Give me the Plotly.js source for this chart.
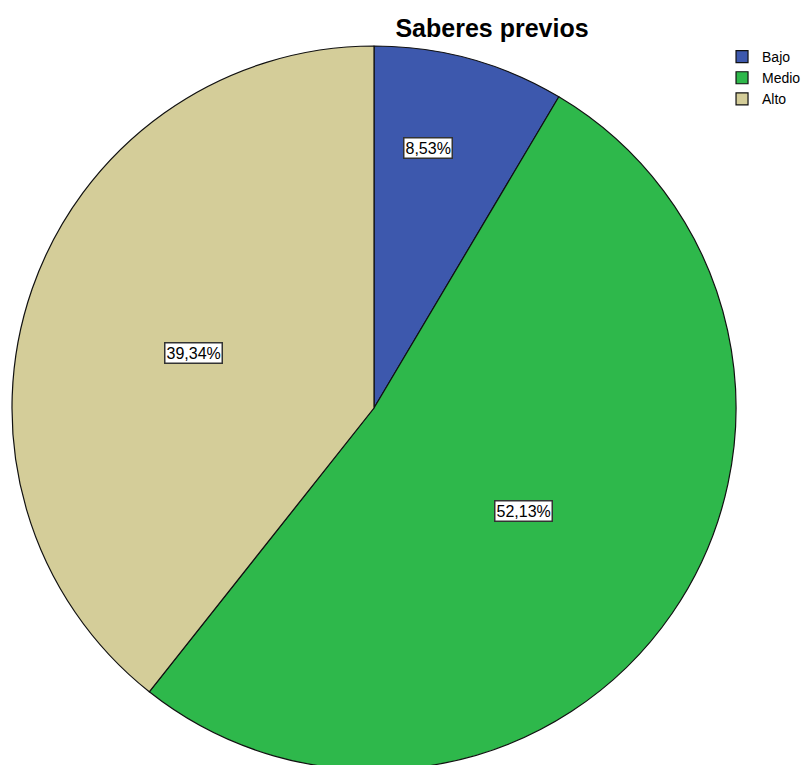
<!DOCTYPE html>
<html>
<head>
<meta charset="utf-8">
<script src="https://cdn.plot.ly/plotly-3.0.1.min.js"></script>
<style>
html, body { margin: 0; padding: 0; overflow: hidden; background: #fff; }
#chart { width: 806px; height: 800px; }
</style>
</head>
<body>
<div id="chart"></div>
<script>
// Data
const categories = ["Bajo", "Medio", "Alto"];
const percents = [8.53, 52.13, 39.34];
const colors = ["#3d58ad", "#2eb84b", "#d4cd99"];
// label placement styling (fraction of radius, fraction along slice)
const labelRadius = [0.733, 0.501, 0.521];
const labelAlong = [0.379, 0.5, 0.484];

const fmt = v => v.toFixed(2).replace(".", ",") + "%";

const total = percents.reduce((a, b) => a + b, 0);
const annotations = [];
let cum = 0;
percents.forEach((v, i) => {
  const start = cum / total * 2 * Math.PI;
  const end = (cum + v) / total * 2 * Math.PI;
  const th = start + (end - start) * labelAlong[i];
  cum += v;
  annotations.push({
    xref: "paper", yref: "paper",
    x: 0.5 + 0.5 * labelRadius[i] * Math.sin(th),
    y: 0.5 + 0.5 * labelRadius[i] * Math.cos(th),
    xanchor: "center", yanchor: "middle",
    text: fmt(v),
    showarrow: false,
    font: { family: "Liberation Sans, Arial, sans-serif", size: 16, color: "#000" },
    bgcolor: "#ffffff",
    bordercolor: "#333333",
    borderwidth: 1.5,
    borderpad: 1
  });
});

const trace = {
  type: "pie",
  labels: categories,
  values: percents,
  sort: false,
  direction: "clockwise",
  rotation: 0,
  textinfo: "none",
  hoverinfo: "label+percent",
  marker: { colors: colors, line: { color: "#111111", width: 1.2 } },
  domain: { x: [0, 1], y: [0, 1] }
};

const layout = {
  width: 806,
  height: 800,
  margin: { l: 12, r: 70, t: 46, b: 30, autoexpand: false },
  paper_bgcolor: "#ffffff",
  title: {
    text: "<b>Saberes previos</b>",
    font: { family: "Liberation Sans, Arial, sans-serif", size: 25, color: "#000" },
    xref: "container", x: 492 / 806, xanchor: "center",
    yref: "container", y: 1 - 28 / 800, yanchor: "middle"
  },
  showlegend: true,
  legend: {
    x: 0.9807, xanchor: "left",
    y: 1.007, yanchor: "top",
    font: { family: "Liberation Sans, Arial, sans-serif", size: 14, color: "#000" },
    bgcolor: "rgba(0,0,0,0)",
    itemwidth: 30,
    tracegroupgap: 0
  },
  annotations: annotations
};

Plotly.newPlot("chart", [trace], layout, { displayModeBar: false, staticPlot: true });
</script>
</body>
</html>
